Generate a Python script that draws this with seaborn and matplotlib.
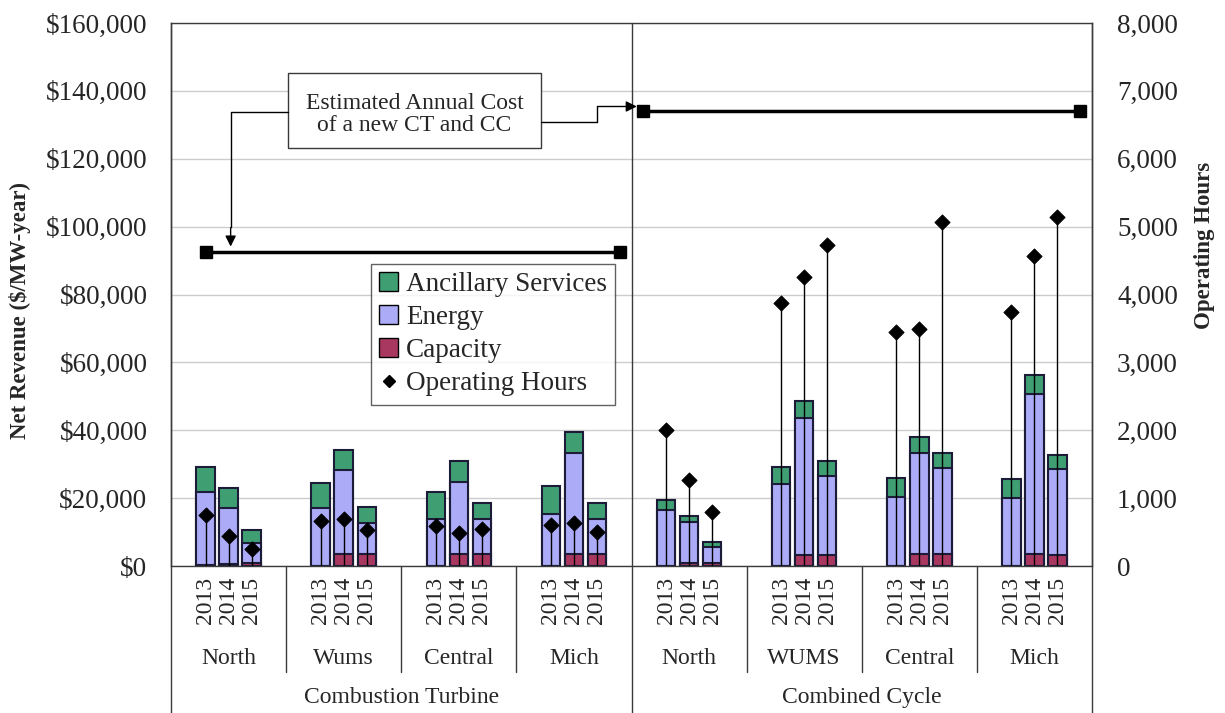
import numpy as np
import pandas as pd
import matplotlib
matplotlib.use("Agg")
import matplotlib.pyplot as plt
import matplotlib.ticker as mticker
from matplotlib.patches import Patch, Rectangle
from matplotlib.lines import Line2D
import seaborn as sns

# data
REGIONS = ["North", "Wums", "Central", "Mich", "North", "WUMS", "Central", "Mich"]
TECHS = ["Combustion Turbine", "Combined Cycle"]
YEARS = ["2013", "2014", "2015"]

CAPACITY = [200, 600, 1000, 0, 3500, 3400, 0, 3450, 3450, 0, 3500, 3450,
            0, 800, 1000, 0, 3300, 3300, 0, 3500, 3500, 0, 3500, 3300]
ENERGY = [21500, 16400, 5850, 17150, 24700, 9300, 13750, 21350, 10400, 15300, 29800, 10300,
          16500, 12050, 4700, 24100, 40400, 23150, 20200, 29650, 25400, 19900, 47300, 25150]
ANCILLARY = [7500, 5900, 3750, 7350, 6100, 4700, 8000, 6150, 4800, 8250, 6200, 4900,
             2900, 1950, 1300, 5100, 4900, 4400, 5600, 4900, 4400, 5750, 5400, 4200]
HOURS = [750, 440, 250, 660, 690, 530, 590, 480, 540, 610, 640, 495,
         2000, 1270, 800, 3870, 4255, 4735, 3445, 3495, 5070, 3740, 4570, 5140]
COST_CT = 92500
COST_CC = 134000

C_ANC = "#3f9f72"
C_EN = "#ababf7"
C_CAP = "#a83860"
EDGE = "#1c1c38"
FRAME = "#3a3a3a"

sns.set_style("white")
plt.rcParams["font.family"] = ["Liberation Serif", "DejaVu Serif"]

# 5 slots per region: blank, 2013, 2014, 2015, blank
pos = [5 * g + y + 1.5 for g in range(len(REGIONS)) for y in range(len(YEARS))]
df = pd.DataFrame({"pos": pos, "capacity": CAPACITY, "energy": ENERGY,
                   "ancillary": ANCILLARY, "hours": HOURS})
df["cap_top"] = df["capacity"]
df["en_top"] = df["capacity"] + df["energy"]
df["total"] = df["en_top"] + df["ancillary"]

fig = plt.figure(figsize=(12.25, 7.13), dpi=100)
ax = fig.add_axes([171 / 1225, 147 / 713, 921 / 1225, 543 / 713])

for col, color in [("total", C_ANC), ("en_top", C_EN), ("cap_top", C_CAP)]:
    sns.barplot(data=df, x="pos", y=col, native_scale=True, color=color, saturation=1,
                edgecolor=EDGE, linewidth=1.5, width=0.8, errorbar=None, ax=ax)

ax.set_xlim(0, 40)
ax.set_ylim(0, 160000)
ax.set_yticks(np.arange(0, 160001, 20000))
ax.yaxis.set_major_formatter(mticker.FuncFormatter(lambda v, _: f"${int(v):,}"))
ax.yaxis.grid(True, color="#cccccc", lw=1)
ax.set_axisbelow(True)
ax.tick_params(axis="y", length=0, pad=17, labelsize=19.5)
ax.set_xticks(pos)
ax.set_xticklabels(YEARS * len(REGIONS), rotation=90, fontsize=17)
ax.tick_params(axis="x", length=0, pad=8)
ax.set_xlabel("")
ax.set_ylabel("Net Revenue ($/MW-year)", fontsize=16.5, fontweight="bold")
ax.yaxis.set_label_coords(-0.152, 0.47)
for s in ax.spines.values():
    s.set_color(FRAME)
    s.set_linewidth(1)

# cost lines
ax.plot([1.5, 19.5], [COST_CT, COST_CT], color="black", lw=2.5, marker="s", ms=9, zorder=4)
ax.plot([20.5, 39.5], [COST_CC, COST_CC], color="black", lw=2.5, marker="s", ms=9, zorder=4)

# annotation box with elbow arrows
ax.add_patch(Rectangle((5.08, 123200), 10.99, 22100, facecolor="white",
                       edgecolor=FRAME, lw=1, zorder=5))
ax.text(10.58, 133000, "Estimated Annual Cost\nof a new CT and CC", ha="center", va="center",
        fontsize=17, linespacing=1.1, zorder=6)
ax.plot([5.08, 2.59, 2.59], [133900, 133900, 100000], color="black", lw=1, zorder=5)
ax.annotate("", xy=(2.59, 93300), xytext=(2.59, 100500),
            arrowprops=dict(arrowstyle="-|>", color="black", lw=1, mutation_scale=16), zorder=5)
ax.plot([16.07, 18.48, 18.48, 19.6], [130700, 130700, 135400, 135400], color="black", lw=1, zorder=5)
ax.annotate("", xy=(20.35, 135400), xytext=(19.5, 135400),
            arrowprops=dict(arrowstyle="-|>", color="black", lw=1, mutation_scale=16), zorder=5)

# category frame below the axis
xt = ax.get_xaxis_transform()
for x in [0, 20, 40]:
    ax.plot([x, x], [-0.271, 1], color=FRAME, lw=1, transform=xt, clip_on=False)
for x in [5, 10, 15, 25, 30, 35]:
    ax.plot([x, x], [-0.195, 0], color=FRAME, lw=1, transform=xt, clip_on=False)
for g, name in enumerate(REGIONS):
    ax.text(5 * g + 2.5, -0.17, name, transform=xt, ha="center", va="center", fontsize=17)
for t, name in enumerate(TECHS):
    ax.text(20 * t + 10, -0.242, name, transform=xt, ha="center", va="center", fontsize=17)

# operating hours on the secondary axis
ax2 = ax.twinx()
ax2.vlines(df["pos"], 0, df["hours"], color="black", lw=1, zorder=4)
sns.scatterplot(data=df, x="pos", y="hours", marker="D", color="black", s=60,
                edgecolor="black", legend=False, ax=ax2, zorder=5)
ax2.set_xlim(0, 40)
ax2.set_ylim(0, 8000)
ax2.set_yticks(np.arange(0, 8001, 1000))
ax2.yaxis.set_major_formatter(mticker.FuncFormatter(lambda v, _: f"{int(v):,}"))
ax2.tick_params(axis="y", length=0, pad=18, labelsize=19.5)
ax2.set_xlabel("")
ax2.set_ylabel("Operating Hours", fontsize=16.5, fontweight="bold")
ax2.yaxis.set_label_coords(1.111, 0.59)
for s in ax2.spines.values():
    s.set_visible(False)

handles = [Patch(facecolor=C_ANC, edgecolor="black", label="Ancillary Services"),
           Patch(facecolor=C_EN, edgecolor="black", label="Energy"),
           Patch(facecolor=C_CAP, edgecolor="black", label="Capacity"),
           Line2D([], [], marker="D", color="black", ls="none", ms=6, label="Operating Hours")]
leg = ax2.legend(handles=handles, loc="upper left", bbox_to_anchor=(371 / 1225, 1 - 264 / 713),
                 bbox_transform=fig.transFigure, fontsize=19.5, frameon=True, fancybox=False,
                 handlelength=0.7, handleheight=0.7, handletextpad=0.3, labelspacing=0.3,
                 borderpad=0.3, borderaxespad=0)
leg.get_frame().set_edgecolor(FRAME)
leg.get_frame().set_linewidth(1)

fig.savefig("out.png", dpi=100)
